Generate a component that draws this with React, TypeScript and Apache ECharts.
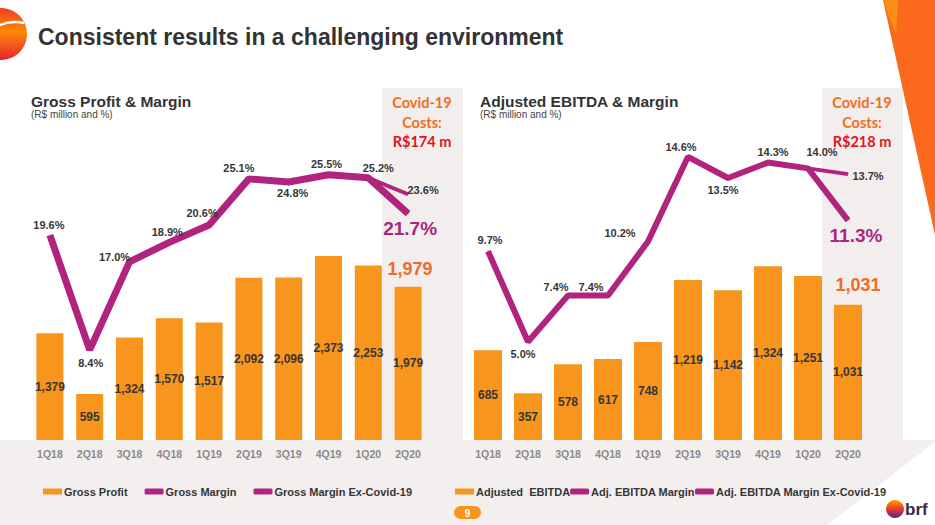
import React, { useEffect, useRef } from "react";
import * as echarts from "echarts";

const quarters = ["1Q18", "2Q18", "3Q18", "4Q18", "1Q19", "2Q19", "3Q19", "4Q19", "1Q20", "2Q20"];
const grossProfit = [1379, 595, 1324, 1570, 1517, 2092, 2096, 2373, 2253, 1979];
const grossMargin = [19.6, 8.4, 17.0, 18.9, 20.6, 25.1, 24.8, 25.5, 25.2, 21.7];
const grossMarginExCovid = [null, null, null, null, null, null, null, null, 25.2, 23.6];
const adjEbitda = [685, 357, 578, 617, 748, 1219, 1142, 1324, 1251, 1031];
const ebitdaMargin = [9.7, 5.0, 7.4, 7.4, 10.2, 14.6, 13.5, 14.3, 14.0, 11.3];
const ebitdaMarginExCovid = [null, null, null, null, null, null, null, null, 14.0, 13.7];

// label offsets (presentation only)
const gmOffsets = [[-1, -10], [1, 13], [-15, -5], [-2, -10], [-7, -12], [-10, -11], [4, 11], [-2, -11], [10, -10], [2, 15]];
const emOffsets = [[2, -11], [-5, 12], [-12, -9], [-17, -9], [-28, -9], [-7, -10], [-5, 12], [5, -11], [14, -16], [8, 15]];

const FONT = "'Liberation Sans', Arial, Helvetica, sans-serif";
const ORANGE = "#f8951d";
const PURPLE = "#b0247f";
const BIG_PURPLE = "#a8287f";
const BIG_ORANGE = "#f26a2a";
const DARK = "#363636";

function fmt(n: number) {
  return n.toLocaleString("en-US");
}

function lineData(values: number[], offsets: number[][], lastBig: boolean) {
  return values.map((v, i) => {
    const big = lastBig && i === values.length - 1;
    return {
      value: v,
      label: {
        show: true,
        position: "inside",
        offset: offsets[i],
        formatter: v.toFixed(1) + "%",
        fontSize: big ? 19 : 11,
        color: big ? BIG_PURPLE : DARK,
        fontWeight: "bold",
        fontFamily: FONT,
      },
    };
  });
}

function exData(values: (number | null)[], offset: number[]) {
  return values.map((v, i) => {
    if (v === null) return "-";
    if (i === values.length - 1) {
      return {
        value: v,
        label: {
          show: true,
          position: "inside",
          offset,
          formatter: (v as number).toFixed(1) + "%",
          fontSize: 11,
          color: DARK,
          fontWeight: "bold",
          fontFamily: FONT,
        },
      };
    }
    return v;
  });
}

export default function App() {
  const ref = useRef<HTMLDivElement>(null);
  useEffect(() => {
    document.body.style.margin = "0";
    const chart = echarts.init(ref.current!, null, { renderer: "svg" });

    const covidFont = "bold 14.5px Lato, 'Open Sans', sans-serif";
    const covidText = (cx: number, amount: string) => [
      { type: "text", z: 5, style: { x: cx, y: 102, text: "Covid-19", fill: "#f26d21", font: covidFont, textAlign: "center", textVerticalAlign: "middle" } },
      { type: "text", z: 5, style: { x: cx, y: 122, text: "Costs:", fill: "#f26d21", font: covidFont, textAlign: "center", textVerticalAlign: "middle" } },
      { type: "text", z: 5, style: { x: cx, y: 141, text: amount, fill: "#e3141b", font: covidFont, textAlign: "center", textVerticalAlign: "middle" } },
    ];

    const axisLabel = { color: "#8a8a8a", fontSize: 10.5, fontWeight: "bold", fontFamily: FONT, margin: 8 };
    const legendText = { color: DARK, fontSize: 11, fontWeight: "bold", fontFamily: FONT, padding: [0, 0, 0, -3] };

    const option: any = {
      animation: false,
      backgroundColor: "#ffffff",
      graphic: [
        { type: "rect", z: -10, shape: { x: 0, y: 440, width: 935, height: 85 }, style: { fill: "#f3efef" } },
        { type: "polygon", z: -9, shape: { points: [[935, 442], [935, 525], [827, 525]] }, style: { fill: "#ffffff" } },
        { type: "rect", z: -10, shape: { x: 382, y: 88, width: 81, height: 352 }, style: { fill: "#f2eeed" } },
        { type: "rect", z: -10, shape: { x: 822, y: 88, width: 81, height: 352 }, style: { fill: "#f2eeed" } },
        { type: "polygon", z: -9, shape: { points: [[883, 0], [935, 0], [935, 235]] }, style: { fill: "#fb6a1c" } },
        { type: "polygon", z: -8, shape: { points: [[883, 0], [898, 0], [896, 35]] }, style: { fill: "#ff8d1a" } },
        {
          type: "circle", z: 5, shape: { cx: 1, cy: 34, r: 26 },
          style: {
            fill: new echarts.graphic.LinearGradient(0, 0, 0, 1, [
              { offset: 0, color: "#ef3e22" },
              { offset: 0.45, color: "#ff8a00" },
              { offset: 0.7, color: "#f25a1e" },
              { offset: 1, color: "#e3232d" },
            ]),
          },
        },
        { type: "bezierCurve", z: 6, shape: { x1: -4, y1: 27, cpx1: 8, cpy1: 20, x2: 24, y2: 23 }, style: { stroke: "#ffffff", lineWidth: 2.5, fill: "none" } },
        { type: "text", z: 5, style: { x: 38, y: 37, text: "Consistent results in a challenging environment", fill: "#333333", font: "bold 23px " + FONT, textVerticalAlign: "middle" } },
        { type: "text", z: 5, style: { x: 31, y: 101, text: "Gross Profit & Margin", fill: "#333333", font: "bold 15.5px " + FONT, textVerticalAlign: "middle" } },
        { type: "text", z: 5, style: { x: 31, y: 114, text: "(R$ million and %)", fill: "#444444", font: "10px " + FONT, textVerticalAlign: "middle" } },
        { type: "text", z: 5, style: { x: 480, y: 101, text: "Adjusted EBITDA & Margin", fill: "#333333", font: "bold 15.5px " + FONT, textVerticalAlign: "middle" } },
        { type: "text", z: 5, style: { x: 480, y: 114, text: "(R$ million and %)", fill: "#444444", font: "10px " + FONT, textVerticalAlign: "middle" } },
        ...covidText(422, "R$174 m"),
        ...covidText(862, "R$218 m"),
        { type: "rect", z: 5, shape: { x: 454, y: 506, width: 27, height: 13, r: 6.5 }, style: { fill: "#f7941d" } },
        { type: "text", z: 6, style: { x: 467.5, y: 513, text: "9", fill: "#ffffff", font: "bold 10px " + FONT, textAlign: "center", textVerticalAlign: "middle" } },
        {
          type: "circle", z: 5, shape: { cx: 895, cy: 509, r: 9 },
          style: {
            fill: new echarts.graphic.LinearGradient(0, 0, 0, 1, [
              { offset: 0, color: "#ffa000" },
              { offset: 0.5, color: "#ec3a2a" },
              { offset: 1, color: "#4b2c8e" },
            ]),
          },
        },
        { type: "text", z: 5, style: { x: 905, y: 509, text: "brf", fill: "#35284a", font: "bold 17px " + FONT, textVerticalAlign: "middle" } },
      ],
      legend: [
        {
          left: 43, top: 486, padding: 0, itemWidth: 19, itemHeight: 6, itemGap: 17,
          textStyle: legendText,
          data: [
            { name: "Gross Profit", icon: "rect" },
            { name: "Gross Margin", icon: "roundRect" },
            { name: "Gross Margin Ex-Covid-19", icon: "roundRect" },
          ],
        },
        {
          left: 455, top: 486, padding: 0, itemWidth: 19, itemHeight: 6, itemGap: 0,
          textStyle: legendText,
          data: [
            { name: "Adjusted  EBITDA", icon: "rect" },
            { name: "Adj. EBITDA Margin", icon: "roundRect" },
            { name: "Adj. EBITDA Margin Ex-Covid-19", icon: "roundRect" },
          ],
        },
      ],
      grid: [
        { left: 30, top: 99, width: 398, height: 341 },
        { left: 468, top: 99, width: 400, height: 341 },
      ],
      xAxis: [
        { type: "category", gridIndex: 0, data: quarters, axisLine: { show: false }, axisTick: { show: false }, axisLabel },
        { type: "category", gridIndex: 1, data: quarters, axisLine: { show: false }, axisTick: { show: false }, axisLabel },
      ],
      yAxis: [
        { type: "value", gridIndex: 0, min: 0, max: 4400, show: false, splitLine: { show: false } },
        { type: "value", gridIndex: 0, min: -0.4, max: 32.9, show: false, splitLine: { show: false } },
        { type: "value", gridIndex: 1, min: 0, max: 2600, show: false, splitLine: { show: false } },
        { type: "value", gridIndex: 1, min: -0.1, max: 17.6, show: false, splitLine: { show: false } },
      ],
      series: [
        {
          name: "Gross Profit", type: "bar", xAxisIndex: 0, yAxisIndex: 0, data: grossProfit, barWidth: 27,
          itemStyle: { color: ORANGE },
          label: { show: true, position: "inside", formatter: (p: any) => fmt(p.value), color: DARK, fontSize: 12, fontWeight: "bold", fontFamily: FONT },
          markPoint: {
            symbol: "circle", symbolSize: 1, itemStyle: { color: "rgba(0,0,0,0)" },
            data: [{ coord: ["2Q20", grossProfit[9]], value: grossProfit[9] }],
            label: { show: true, position: "inside", offset: [2, -18], formatter: () => fmt(grossProfit[9]), color: BIG_ORANGE, fontSize: 18, fontWeight: "bold", fontFamily: FONT },
          },
        },
        {
          name: "Gross Margin", type: "line", xAxisIndex: 0, yAxisIndex: 1, data: lineData(grossMargin, gmOffsets, true),
          symbol: "circle", symbolSize: 1, showSymbol: true, itemStyle: { color: PURPLE }, lineStyle: { color: PURPLE, width: 7 }, z: 4,
        },
        {
          name: "Gross Margin Ex-Covid-19", type: "line", xAxisIndex: 0, yAxisIndex: 1, data: exData(grossMarginExCovid, [15, -4]),
          symbol: "circle", symbolSize: 1, showSymbol: true, itemStyle: { color: PURPLE }, lineStyle: { color: PURPLE, width: 4 }, z: 4,
        },
        {
          name: "Adjusted  EBITDA", type: "bar", xAxisIndex: 1, yAxisIndex: 2, data: adjEbitda, barWidth: 28,
          itemStyle: { color: ORANGE },
          label: { show: true, position: "inside", formatter: (p: any) => fmt(p.value), color: DARK, fontSize: 12, fontWeight: "bold", fontFamily: FONT },
          markPoint: {
            symbol: "circle", symbolSize: 1, itemStyle: { color: "rgba(0,0,0,0)" },
            data: [{ coord: ["2Q20", adjEbitda[9]], value: adjEbitda[9] }],
            label: { show: true, position: "inside", offset: [10, -20], formatter: () => fmt(adjEbitda[9]), color: BIG_ORANGE, fontSize: 18, fontWeight: "bold", fontFamily: FONT },
          },
        },
        {
          name: "Adj. EBITDA Margin", type: "line", xAxisIndex: 1, yAxisIndex: 3, data: lineData(ebitdaMargin, emOffsets, true),
          symbol: "circle", symbolSize: 1, showSymbol: true, itemStyle: { color: PURPLE }, lineStyle: { color: PURPLE, width: 6 }, z: 4,
        },
        {
          name: "Adj. EBITDA Margin Ex-Covid-19", type: "line", xAxisIndex: 1, yAxisIndex: 3, data: exData(ebitdaMarginExCovid, [20, 2]),
          symbol: "circle", symbolSize: 1, showSymbol: true, itemStyle: { color: PURPLE }, lineStyle: { color: PURPLE, width: 4 }, z: 4,
        },
      ],
    };
    chart.setOption(option);
    return () => chart.dispose();
  }, []);
  return <div ref={ref} style={{ position: "absolute", left: 0, top: 0, width: 935, height: 525 }} />;
}
